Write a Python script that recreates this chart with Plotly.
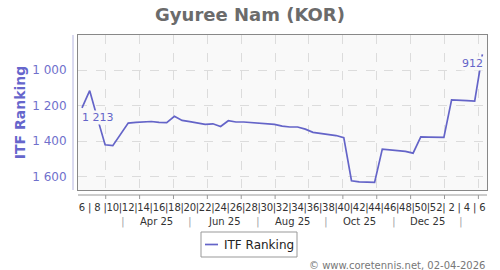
import plotly.graph_objects as go
import numpy as np

# ---- data ----
weeks = [6, 7, 8, 9, 10, 11, 12, 13, 14, 15, 16, 17, 18, 19, 20, 21, 22, 23, 24, 25,
         26, 27, 28, 29, 30, 31, 32, 33, 34, 35, 36, 37, 38, 39, 40, 41, 42, 43, 44, 45,
         46, 47, 48, 49, 50, 51, 52, 1, 2, 3, 4, 5, 6]
ranking = [1213, 1116, 1270, 1420, 1425, 1363, 1298, 1294, 1292, 1289, 1294, 1295, 1260,
           1283, 1290, 1298, 1305, 1302, 1317, 1285, 1292, 1292, 1296, 1296, 1302, 1305,
           1315, 1320, 1320, 1332, 1350, 1356, 1362, 1368, 1380, 1622, 1628, 1631, 1631,
           1444, 1448, 1452, 1457, 1467, 1376, 1377, 1378, 1378, 1167, 1171, 1172, 1174, 912]
month_labels = ["Apr 25", "Jun 25", "Aug 25", "Oct 25", "Dec 25"]
y_ticks = [1000, 1200, 1400, 1600]
series_name = "ITF Ranking"
title_text = "Gyuree Nam (KOR)"
footer_text = "© www.coretennis.net, 02-04-2026"

# ---- styling ----
LINE = "#6464c8"
PLOTBG = "#f9f9f9"
FONT = "DejaVu Sans"
PW, PH, L, T = 409, 155, 78, 35  # plot box in pixels


def px(x):
    return (x - L) / PW


def py(y):
    return (T + PH - y) / PH


xi = list(range(len(ranking)))
tick_text = [str(w) if i % 2 == 0 else "|" for i, w in enumerate(weeks)]

grid0, gstep = 3.08, 4.4
grid_pos = list(np.arange(grid0, len(ranking), gstep))
sep_pos = [grid0 + gstep / 2 + 2 * gstep * k for k in range(6)]
lab_pos = [s + gstep for s in sep_pos[:len(month_labels)]]

fig = go.Figure()
fig.add_trace(go.Scatter(x=xi, y=ranking, mode="lines", name=series_name,
                         line=dict(color=LINE, width=1.7), showlegend=False))


def fmt(v):
    return f"{v:,}".replace(",", " ")


annotations = [
    dict(x=0, y=ranking[0], xref="x", yref="y", text=fmt(ranking[0]), showarrow=False,
         xanchor="left", yanchor="top", yshift=-2, xshift=-1, bgcolor=PLOTBG, borderpad=0,
         font=dict(family=FONT, size=11, color=LINE)),
    dict(x=len(ranking) - 1, y=ranking[-1], xref="x", yref="y", text=fmt(ranking[-1]),
         showarrow=False, xanchor="right", yanchor="top", xshift=2, yshift=-2,
         bgcolor=PLOTBG, borderpad=0, font=dict(family=FONT, size=11, color=LINE)),
    dict(x=1, y=py(265), xref="paper", yref="paper", text=footer_text, showarrow=False,
         xanchor="right", yanchor="middle", font=dict(family=FONT, size=10, color="#777")),
    # legend text
    dict(x=px(222), y=py(244.5), xref="paper", yref="paper", text=series_name,
         showarrow=False, xanchor="left", yanchor="middle",
         font=dict(family=FONT, size=12, color="#222")),
]
for lab, p in zip(month_labels, lab_pos):
    annotations.append(dict(x=p, y=py(221), xref="x", yref="paper", text=lab, showarrow=False,
                            xanchor="center", yanchor="middle",
                            font=dict(family=FONT, size=10, color="#333")))
for p in sep_pos:
    annotations.append(dict(x=p, y=py(221), xref="x", yref="paper", text="|", showarrow=False,
                            xanchor="center", yanchor="middle",
                            font=dict(family=FONT, size=11, color="#aaa")))

shapes = [
    dict(type="line", xref="paper", yref="paper", x0=px(73), x1=px(73), y0=0, y1=1,
         line=dict(color="#b4b4e0", width=1)),
    dict(type="line", xref="paper", yref="paper", x0=0, x1=1, y0=py(195), y1=py(195),
         line=dict(color="#999", width=1)),
    # legend box and sample line
    dict(type="rect", xref="paper", yref="paper", x0=px(201), x1=px(297), y0=py(257),
         y1=py(232), line=dict(color="#999", width=1), fillcolor="white"),
    dict(type="line", xref="paper", yref="paper", x0=px(205), x1=px(218), y0=py(244.5),
         y1=py(244.5), line=dict(color=LINE, width=1.7)),
]
for p in grid_pos:
    shapes.append(dict(type="line", xref="x", yref="paper", x0=p, x1=p, y0=py(195), y1=py(199),
                       line=dict(color="#999", width=1)))

fig.update_layout(
    width=500, height=270,
    margin=dict(l=L, r=500 - L - PW, t=T, b=270 - T - PH),
    paper_bgcolor="white", plot_bgcolor=PLOTBG,
    separators=". ",
    font=dict(family=FONT, size=10, color="#333"),
    title=dict(text=title_text, x=0.5, xref="container", xanchor="center",
               y=1 - 15 / 270, yref="container", yanchor="middle",
               font=dict(family=FONT, size=18, color="#6b6b6b", weight="bold")),
    showlegend=False,
    annotations=annotations,
    shapes=shapes,
)
fig.update_xaxes(range=[-0.52, 52.6], tickmode="array", tickvals=xi, ticktext=tick_text,
                 tickangle=0, ticks="outside", ticklen=8, tickcolor="rgba(0,0,0,0)",
                 showgrid=False, zeroline=False, showline=True, mirror=True,
                 linecolor="#888", linewidth=1,
                 tickfont=dict(family=FONT, size=10, color="#333"),
                 minor=dict(tickvals=grid_pos, showgrid=True, gridcolor="#dcdcdc",
                            griddash="dash", gridwidth=1, ticks=""))
fig.update_yaxes(range=[1674, 803], tickmode="array", tickvals=y_ticks, tickformat=",d",
                 ticks="outside", ticklen=8, tickcolor="rgba(0,0,0,0)",
                 showgrid=True, gridcolor="#dcdcdc", griddash="dash", gridwidth=1,
                 zeroline=False, showline=True, mirror=True, linecolor="#888", linewidth=1,
                 tickfont=dict(family=FONT, size=12, color="#7070cc"),
                 title=dict(text=series_name, standoff=3,
                            font=dict(family=FONT, size=14, color="#6666cc", weight="bold")))

fig.write_html("out.html")
